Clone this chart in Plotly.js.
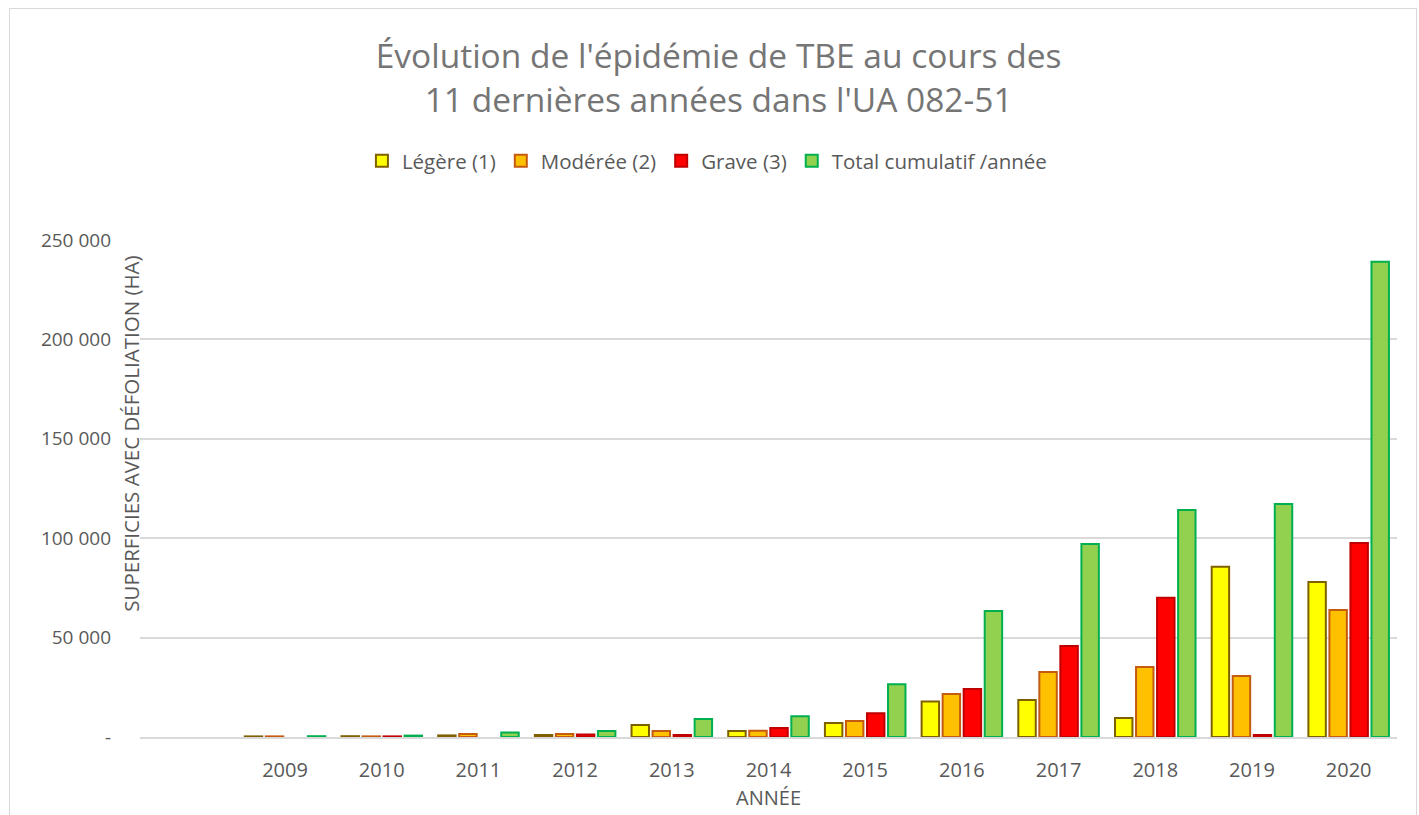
<!DOCTYPE html>
<html><head><meta charset="utf-8">
<script src="https://cdn.plot.ly/plotly-3.0.1.min.js"></script>
<style>
html,body{margin:0;padding:0;background:#fff;overflow:hidden;}
#wrap{position:absolute;left:9px;top:8px;width:1408px;height:840px;border:1px solid #d9d9d9;box-sizing:border-box;}
#chart{width:1406px;height:838px;}
</style></head>
<body><div id="wrap"><div id="chart"></div></div>
<script>
const categories = [" ", "2009", "2010", "2011", "2012", "2013", "2014", "2015", "2016", "2017", "2018", "2019", "2020"];
const legere   = [null, 300, 400, 800, 1000, 6000, 3000, 7000, 17800, 18600, 9500, 85600, 78000];
const moderee  = [null, 300, 300, 1500, 1500, 3000, 3200, 8000, 21600, 32700, 35200, 30700, 63900];
const grave    = [null, null, 300, null, 1200, 1000, 4500, 12000, 24200, 45800, 70000, 1000, 97600];
const total    = [null, 400, 700, 2300, 3000, 9000, 10500, 26500, 63400, 97100, 114200, 117200, 239000];
const seriesNames = ["Légère (1)", "Modérée (2)", "Grave (3)", "Total cumulatif /année"];
const tickVals = [0, 50000, 100000, 150000, 200000, 250000];
const tickText = ["-", "50 000", "100 000", "150 000", "200 000", "250 000"];

const fills = ["#ffff00", "#ffc000", "#ff0000", "#92d050"];
const lines = ["#7f6000", "#c55a11", "#c00000", "#00b050"];
const data = [legere, moderee, grave, total].map((v, i) => ({
  type: "bar", name: seriesNames[i], x: categories, y: v,
  marker: {color: fills[i], line: {color: lines[i], width: 2}},
  hoverinfo: "x+y"
}));
const grey = "#595959";
const layout = {
  width: 1406, height: 838,
  margin: {l: 130, r: 19, t: 231, b: 110},
  paper_bgcolor: "#fff", plot_bgcolor: "#fff",
  font: {family: "Open Sans, sans-serif", color: grey},
  title: {text: "Évolution de l'épidémie de TBE au cours des<br>11 dernières années dans l'UA 082-51",
          font: {size: 33.5, color: "#757575"}, x: 0.504, xanchor: "center", y: 0.929, yanchor: "middle"},
  showlegend: true,
  legend: {orientation: "h", x: 0.451, xanchor: "center", y: 1.159, yanchor: "middle",
           font: {size: 20.5, color: grey}, traceorder: "normal"},
  barmode: "group", bargap: 0.13, bargroupgap: 0.17,
  xaxis: {type: "category", tickfont: {size: 20, color: grey}, showline: true, linecolor: "#d9d9d9", linewidth: 1.5,
          ticks: "", ticklabelstandoff: 14,
          title: {text: "ANNÉE", font: {size: 20, color: grey}, standoff: 9}},
  yaxis: {range: [0, 250000], tickvals: tickVals, ticktext: tickText, tickfont: {size: 19, color: grey},
          gridcolor: "#d9d9d9", gridwidth: 1.5, zeroline: false, showline: false, ticks: "",
          ticklabelstandoff: 28},
  annotations: [{text: "SUPERFICIES AVEC DÉFOLIATION (HA)", textangle: -90, showarrow: false,
                 xref: "paper", yref: "paper", x: -0.0072, y: 0.61, xanchor: "center", yanchor: "middle",
                 font: {size: 20.5, color: grey}}]
};
Plotly.newPlot("chart", data, layout, {displayModeBar: false});
</script></body></html>
